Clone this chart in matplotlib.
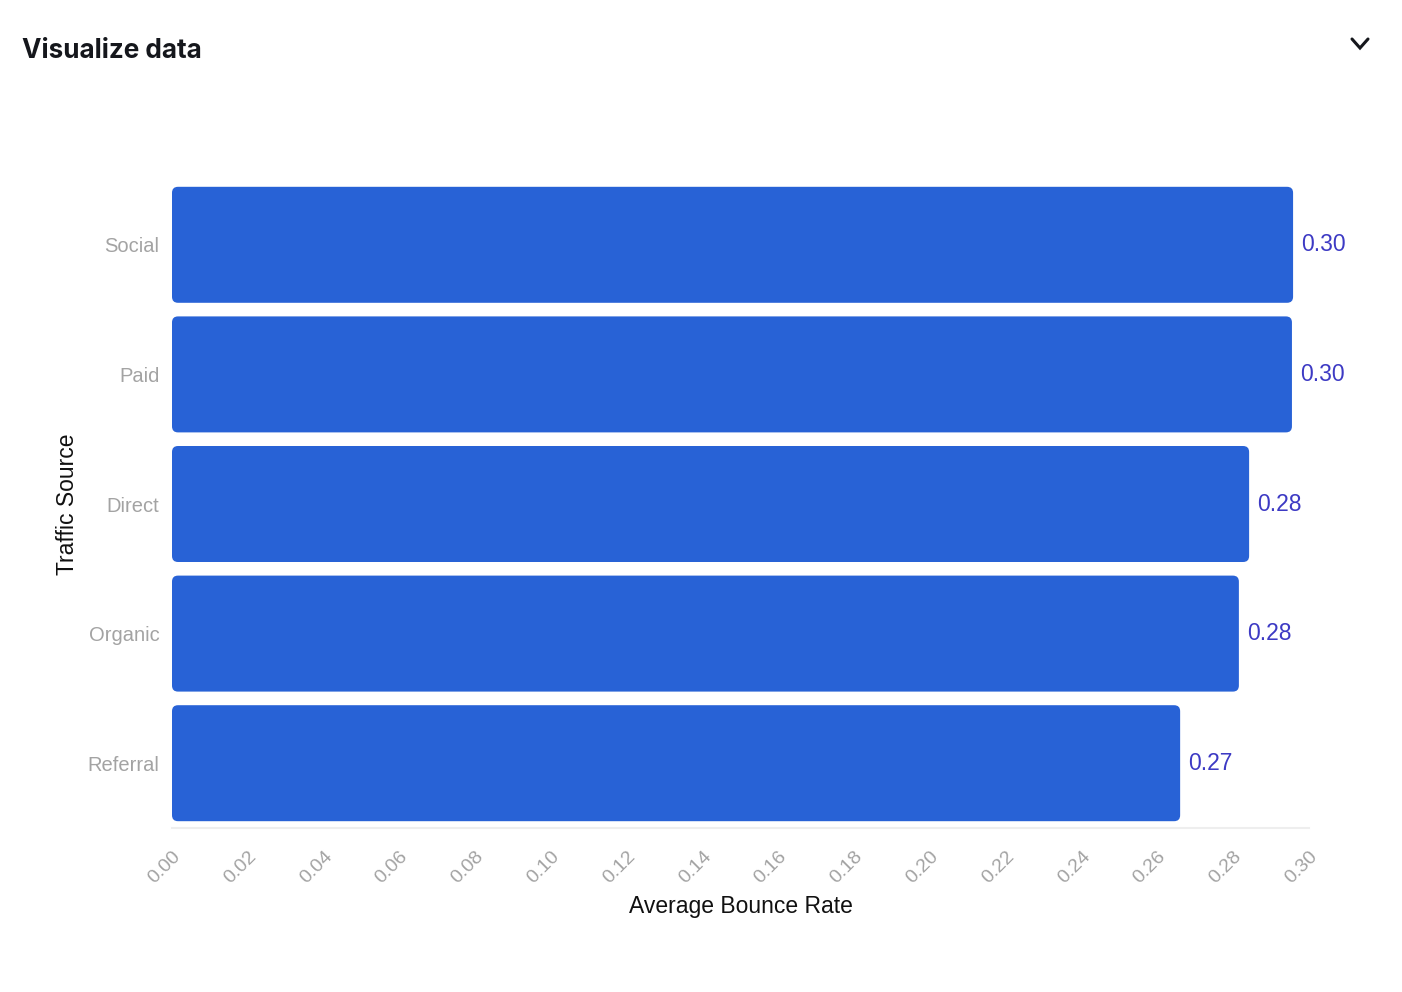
"""
Average bounce rate by traffic source, horizontal bar chart.
"""

import matplotlib
matplotlib.use("Agg")
import matplotlib.pyplot as plt
from matplotlib.patches import FancyBboxPatch

# data
SOURCES = ["Referral", "Organic", "Direct", "Paid", "Social"]
BOUNCE = [0.266, 0.2815, 0.2842, 0.2955, 0.2958]
X_TICKS = [0.00, 0.02, 0.04, 0.06, 0.08, 0.10, 0.12, 0.14, 0.16, 0.18,
           0.20, 0.22, 0.24, 0.26, 0.28, 0.30]

BAR_COLOR = "#2862D6"
VALUE_COLOR = "#3D3AC4"
TICK_COLOR = "#A3A3A3"

plt.rcParams["font.family"] = ["Liberation Sans", "DejaVu Sans"]

fig = plt.figure(figsize=(14.02, 9.92), dpi=100)
ax = fig.add_axes([172 / 1402, 1 - 828 / 992, 1137 / 1402, 648 / 992])

ax.set_xlim(0, 0.30)
ax.set_ylim(-0.5, len(SOURCES) - 0.5)

# aspect for rounded corners: data-y per data-x in pixel terms
x_per_px = 0.30 / 1137
y_per_px = len(SOURCES) / 648
aspect = y_per_px / x_per_px
radius = 6 * x_per_px
bar_h = 0.895

for i, v in enumerate(BOUNCE):
    patch = FancyBboxPatch((0, i - bar_h / 2), v, bar_h,
                           boxstyle=f"round,pad=0,rounding_size={radius}",
                           mutation_aspect=aspect,
                           facecolor=BAR_COLOR, edgecolor="none")
    ax.add_patch(patch)
    ax.text(v + 8 * x_per_px, i, f"{v:.2f}", color=VALUE_COLOR,
            fontsize=16.5, va="center", ha="left")

ax.set_yticks(range(len(SOURCES)))
ax.set_yticklabels(SOURCES, color=TICK_COLOR, fontsize=14.5)
ax.set_xticks(X_TICKS)
ax.set_xticklabels([f"{t:.2f}" for t in X_TICKS], color=TICK_COLOR,
                   fontsize=14, rotation=45, ha="right", va="top",
                   rotation_mode="anchor")
ax.tick_params(axis="both", length=0)
ax.tick_params(axis="y", pad=9)
ax.tick_params(axis="x", pad=14)

for s in ["top", "right", "left"]:
    ax.spines[s].set_visible(False)
ax.spines["bottom"].set_color("#EEEEEE")
ax.spines["bottom"].set_linewidth(1.5)

ax.set_xlabel("Average Bounce Rate", fontsize=16.5, color="#111111",
              labelpad=6)
ax.set_ylabel("Traffic Source", fontsize=16.5, color="#111111", labelpad=6)

# header
fig.text(22 / 1402, 1 - 51 / 992, "Visualize data", fontsize=18.8,
         fontweight="bold", family=["Inter", "DejaVu Sans"],
         color="#15171C", va="center", ha="left")
fig.lines.append(plt.Line2D([1352 / 1402, 1360 / 1402, 1368 / 1402],
                            [1 - 39 / 992, 1 - 48 / 992, 1 - 39 / 992],
                            transform=fig.transFigure, color="#15171C",
                            linewidth=2.2, solid_capstyle="round",
                            solid_joinstyle="miter"))

fig.savefig("out.png", dpi=100, facecolor="white")
